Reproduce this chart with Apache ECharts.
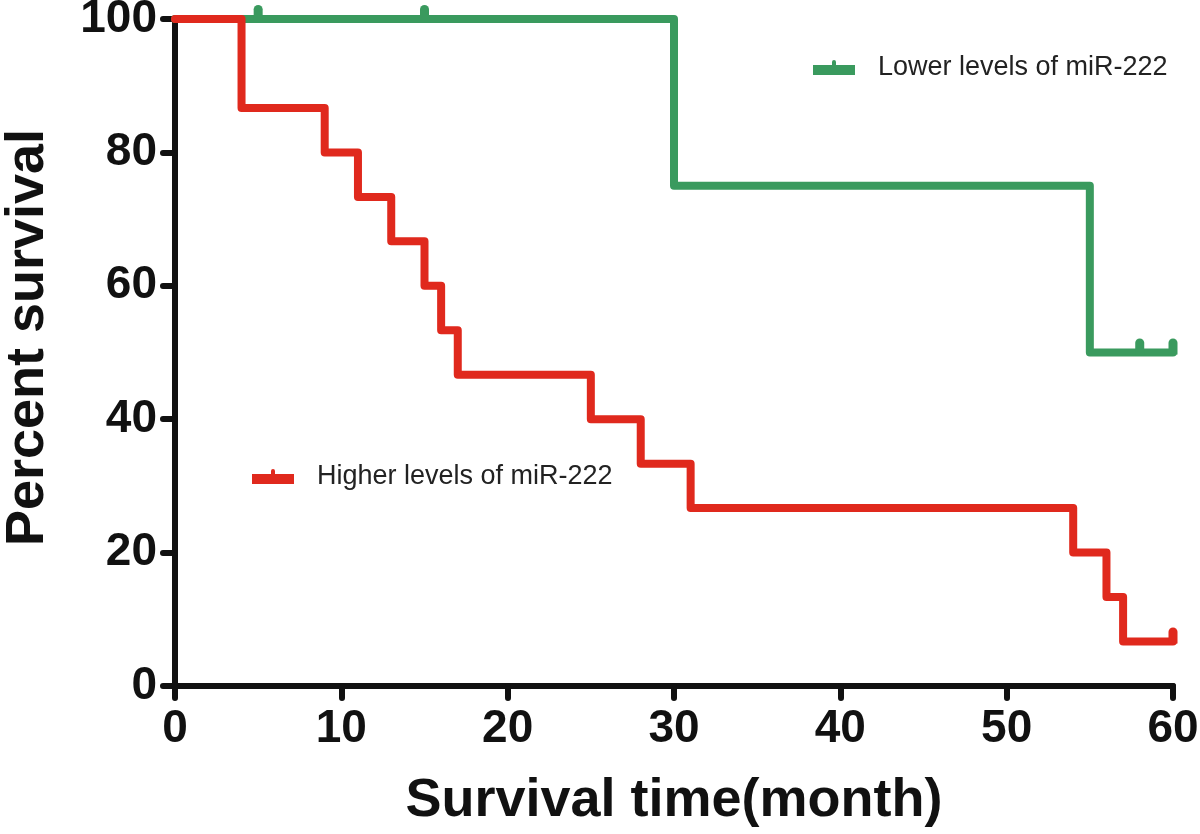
<!DOCTYPE html>
<html><head><meta charset="utf-8">
<script src="https://cdn.jsdelivr.net/npm/echarts@6/dist/echarts.min.js"></script>
<style>html,body{margin:0;padding:0;background:#fff}#c{width:1200px;height:834px}</style>
</head><body><div id="c"></div>
<script>
// Higher levels of miR-222 (red)
const highTimes = [0, 4, 9, 11, 13, 15, 16, 17, 25, 28, 31, 54, 56, 57, 60];
const highSurv  = [100, 86.67, 80, 73.33, 66.67, 60, 53.33, 46.67, 40, 33.33, 26.67, 20, 13.33, 6.67, 6.67];
const highCensorTimes = [60];
const highCensorSurv  = [6.67];
// Lower levels of miR-222 (green)
const lowTimes = [0, 30, 55, 60];
const lowSurv  = [100, 75, 50, 50];
const lowCensorTimes = [5, 15, 58, 60];
const lowCensorSurv  = [100, 100, 50, 50];

const xTicks = [0, 10, 20, 30, 40, 50, 60];
const yTicks = [0, 20, 40, 60, 80, 100];

const nameLow = 'Lower levels of miR-222';
const nameHigh = 'Higher levels of miR-222';
const RED = '#e0291d', GREEN = '#3a9a5e';
const FONT = 'Liberation Sans, Arial, sans-serif';

const pairs = (xs, ys) => xs.map((x, i) => [x, ys[i]]);
const legendIcon = 'path://M0,5h19v-3a2,2 0 0 1 4,0v3h19v10h-42z';
const censorSym = 'path://M0,4.5a4.5,4.5 0 0 1 9,0v12h-9z';

const chart = echarts.init(document.getElementById('c'));
chart.setOption({
  backgroundColor: '#fff',
  animation: false,
  grid: { left: 175, right: 27, top: 19, bottom: 148, outerBoundsMode: 'none', containLabel: false },
  legend: [
    { left: 808, top: 49, data: [{ name: nameLow, icon: legendIcon, itemStyle: { color: GREEN, opacity: 1 } }], itemWidth: 42, itemHeight: 15,
      textStyle: { fontSize: 27, color: '#222', fontFamily: FONT, padding: [0, 0, 0, 18] } },
    { left: 247, top: 458, data: [{ name: nameHigh, icon: legendIcon, itemStyle: { color: RED, opacity: 1 } }], itemWidth: 42, itemHeight: 15,
      textStyle: { fontSize: 27, color: '#222', fontFamily: FONT, padding: [0, 0, 0, 18] } }
  ],
  xAxis: {
    type: 'value', min: 0, max: 60, interval: 10,
    name: 'Survival time(month)', nameLocation: 'middle', nameGap: 88,
    nameTextStyle: { fontSize: 54, fontWeight: 'bold', color: '#111', fontFamily: FONT },
    axisLine: { lineStyle: { color: '#111', width: 6, cap: 'round' } },
    axisTick: { length: 12, lineStyle: { color: '#111', width: 6, cap: 'round' } },
    axisLabel: { fontSize: 46, fontWeight: 'bold', color: '#111', margin: 20, fontFamily: FONT,
      formatter: v => xTicks.includes(v) ? String(v) : '' },
    splitLine: { show: false }
  },
  yAxis: {
    type: 'value', min: 0, max: 100, interval: 20,
    name: 'Percent survival', nameLocation: 'middle', nameGap: 120, nameRotate: 90,
    nameTextStyle: { fontSize: 54, fontWeight: 'bold', color: '#111', fontFamily: FONT, padding: [0, 0, 0, 30] },
    axisLine: { show: true, lineStyle: { color: '#111', width: 6, cap: 'round' } },
    axisTick: { show: true, length: 12, lineStyle: { color: '#111', width: 6, cap: 'round' } },
    axisLabel: { fontSize: 46, fontWeight: 'bold', color: '#111', margin: 18, fontFamily: FONT,
      formatter: v => yTicks.includes(v) ? String(v) : '' },
    splitLine: { show: false }
  },
  series: [
    { name: nameLow, type: 'line', step: 'end', data: pairs(lowTimes, lowSurv), showSymbol: false, color: GREEN,
      lineStyle: { width: 8, color: GREEN, cap: 'round', join: 'round' }, z: 3 },
    { name: nameLow, type: 'scatter', data: pairs(lowCensorTimes, lowCensorSurv), symbol: censorSym,
      symbolSize: [9, 16], symbolOffset: [0, -6], itemStyle: { color: GREEN, opacity: 1 }, z: 3 },
    { name: nameHigh, type: 'line', step: 'end', data: pairs(highTimes, highSurv), showSymbol: false, color: RED,
      lineStyle: { width: 8, color: RED, cap: 'round', join: 'round' }, z: 4 },
    { name: nameHigh, type: 'scatter', data: pairs(highCensorTimes, highCensorSurv), symbol: censorSym,
      symbolSize: [9, 16], symbolOffset: [0, -6], itemStyle: { color: RED, opacity: 1 }, z: 4 }
  ]
});
</script></body></html>
